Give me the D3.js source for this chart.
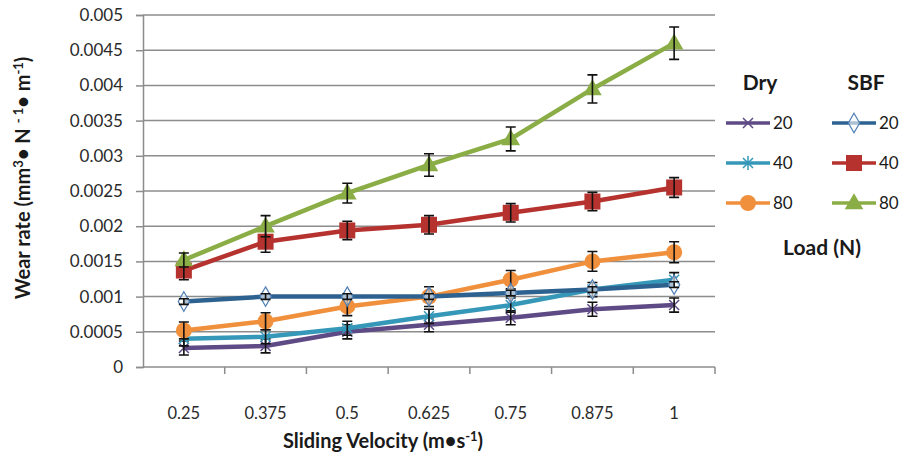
<!DOCTYPE html>
<html>
<head>
<meta charset="utf-8">
<script src="https://cdn.jsdelivr.net/npm/d3@7"></script>
<style>
  body { margin: 0; background: #fff; }
  text { font-family: Lato, "Open Sans", sans-serif; fill: #1a1a1a; }
</style>
</head>
<body>
<div id="chart"></div>
<script>
// Sliding velocity categories
var velocities = ["0.25", "0.375", "0.5", "0.625", "0.75", "0.875", "1"];
var yTicks = [0, 0.0005, 0.001, 0.0015, 0.002, 0.0025, 0.003, 0.0035, 0.004, 0.0045, 0.005];

// Wear rate, dry
var dry20 = [0.00027, 0.0003, 0.0005, 0.0006, 0.0007, 0.00082, 0.00088];
var dry40 = [0.0004, 0.00043, 0.00055, 0.00072, 0.00088, 0.0011, 0.00124];
var dry80 = [0.00052, 0.00065, 0.00086, 0.001, 0.00124, 0.0015, 0.00163];
// Wear rate, SBF
var sbf20 = [0.00093, 0.001, 0.001, 0.001, 0.00105, 0.0011, 0.00117];
var sbf40 = [0.00137, 0.00178, 0.00194, 0.00202, 0.00219, 0.00235, 0.00255];
var sbf80 = [0.00152, 0.002, 0.00247, 0.00287, 0.00324, 0.00395, 0.0046];

// Error bar half-widths
var dry20Err = [0.0001, 0.0001, 0.0001, 0.0001, 0.0001, 0.0001, 0.0001];
var dry40Err = [0.0001, 0.0001, 0.0001, 0.0001, 0.0001, 0.0001, 0.0001];
var dry80Err = [0.00012, 0.00012, 0.00013, 0.00014, 0.00013, 0.00014, 0.00015];
var sbf20Err = [0.00004, 0.00004, 0.00004, 0.00004, 0.00004, 0.00004, 0.00004];
var sbf40Err = [0.00013, 0.00015, 0.00013, 0.00013, 0.00013, 0.00013, 0.00014];
var sbf80Err = [0.0001, 0.00015, 0.00014, 0.00016, 0.00017, 0.0002, 0.00023];

var series = [
  { name: "20", group: "Dry", values: dry20, err: dry20Err, color: "#5e4a85", marker: "x" },
  { name: "40", group: "Dry", values: dry40, err: dry40Err, color: "#3698b8", marker: "star" },
  { name: "80", group: "Dry", values: dry80, err: dry80Err, color: "#f0903c", marker: "circle" },
  { name: "20", group: "SBF", values: sbf20, err: sbf20Err, color: "#2d6290", marker: "diamond" },
  { name: "40", group: "SBF", values: sbf40, err: sbf40Err, color: "#b5322e", marker: "square" },
  { name: "80", group: "SBF", values: sbf80, err: sbf80Err, color: "#8aae45", marker: "triangle" }
];

var width = 904, height = 456;
var plot = { left: 143, right: 715, top: 15, bottom: 367 };

var svg = d3.select("#chart")
  .append("svg")
  .attr("width", width)
  .attr("height", height);

var x = d3.scaleBand()
  .domain(velocities)
  .range([plot.left, plot.right]);

var y = d3.scaleLinear()
  .domain([0, 0.005])
  .range([plot.bottom, plot.top]);

// Gridlines
svg.append("g")
  .selectAll("line")
  .data(yTicks.slice(1))
  .enter()
  .append("line")
  .attr("x1", plot.left)
  .attr("x2", plot.right)
  .attr("y1", function(d) { return y(d); })
  .attr("y2", function(d) { return y(d); })
  .style("stroke", "#8c8c8c")
  .style("stroke-width", "1.5px");

// Y axis
var yAxis = svg.append("g")
  .attr("transform", "translate(" + plot.left + ",0)")
  .call(d3.axisLeft(y).tickValues(yTicks).tickSize(7).tickPadding(13)
    .tickFormat(function(d) { return d === 0 ? "0" : String(+d.toFixed(4)); }));
yAxis.select(".domain").style("stroke", "#8c8c8c").style("stroke-width", "1.5px");
yAxis.selectAll(".tick line").style("stroke", "#8c8c8c").style("stroke-width", "1.5px");
yAxis.selectAll("text").style("font-size", "17px").style("fill", "#2a2a2a");

// X axis, ticks between categories
var xAxis = svg.append("g")
  .attr("transform", "translate(0," + plot.bottom + ")");
xAxis.append("line")
  .attr("x1", plot.left).attr("x2", plot.right)
  .attr("y1", 0).attr("y2", 0)
  .style("stroke", "#8c8c8c").style("stroke-width", "1.5px");
xAxis.selectAll("line.tick")
  .data(velocities)
  .enter()
  .append("line")
  .attr("class", "tick")
  .attr("x1", function(d) { return x(d) + x.bandwidth(); })
  .attr("x2", function(d) { return x(d) + x.bandwidth(); })
  .attr("y1", 0).attr("y2", 7)
  .style("stroke", "#8c8c8c").style("stroke-width", "1.5px");
xAxis.selectAll("text")
  .data(velocities)
  .enter()
  .append("text")
  .attr("x", function(d) { return x(d) + x.bandwidth() / 2; })
  .attr("y", 52)
  .attr("text-anchor", "middle")
  .style("font-size", "16.5px")
  .style("fill", "#2a2a2a")
  .text(function(d) { return d; });

// Axis titles
var yTitle = svg.append("text")
  .attr("transform", "translate(30,178) rotate(-90)")
  .attr("text-anchor", "middle")
  .style("font-size", "20px")
  .style("font-weight", "bold");
yTitle.append("tspan").text("Wear rate (mm");
yTitle.append("tspan").attr("dy", -7).style("font-size", "13px").text("3");
yTitle.append("tspan").attr("dy", 7).text("• N ");
yTitle.append("tspan").attr("dy", -7).style("font-size", "13px").text("- 1");
yTitle.append("tspan").attr("dy", 7).text("• m");
yTitle.append("tspan").attr("dy", -7).style("font-size", "13px").text("-1");
yTitle.append("tspan").attr("dy", 7).text(")");

var xTitle = svg.append("text")
  .attr("x", 383)
  .attr("y", 448)
  .attr("text-anchor", "middle")
  .style("font-size", "20px")
  .style("font-weight", "bold");
xTitle.append("tspan").text("Sliding Velocity (m•s");
xTitle.append("tspan").attr("dy", -7).style("font-size", "13px").text("-1");
xTitle.append("tspan").attr("dy", 7).text(")");

// Marker drawing
function drawMarker(g, type, color, cx, cy) {
  if (type === "x") {
    g.append("path")
      .attr("d", "M" + (cx - 5) + "," + (cy - 5) + "L" + (cx + 5) + "," + (cy + 5) +
                 "M" + (cx - 5) + "," + (cy + 5) + "L" + (cx + 5) + "," + (cy - 5))
      .style("stroke", color).style("stroke-width", "1.5px").style("fill", "none");
  } else if (type === "star") {
    g.append("path")
      .attr("d", "M" + (cx - 5) + "," + (cy - 5) + "L" + (cx + 5) + "," + (cy + 5) +
                 "M" + (cx - 5) + "," + (cy + 5) + "L" + (cx + 5) + "," + (cy - 5) +
                 "M" + cx + "," + (cy - 7) + "L" + cx + "," + (cy + 7))
      .style("stroke", color).style("stroke-width", "1.5px").style("fill", "none");
  } else if (type === "circle") {
    g.append("circle").attr("cx", cx).attr("cy", cy).attr("r", 8)
      .style("fill", color);
  } else if (type === "diamond") {
    g.append("path")
      .attr("d", d3.symbol(d3.symbolDiamond, 110)())
      .attr("transform", "translate(" + cx + "," + cy + ")")
      .style("fill", "#fff").style("fill-opacity", 0.6)
      .style("stroke", "#4f7fb5").style("stroke-width", "1.2px");
  } else if (type === "square") {
    g.append("rect").attr("x", cx - 8).attr("y", cy - 8).attr("width", 16).attr("height", 16)
      .style("fill", color);
  } else if (type === "triangle") {
    g.append("path")
      .attr("d", d3.symbol(d3.symbolTriangle, 150)())
      .attr("transform", "translate(" + cx + "," + (cy + 1) + ")")
      .style("fill", color);
  }
}

var line = d3.line()
  .x(function(d, i) { return x(velocities[i]) + x.bandwidth() / 2; })
  .y(function(d) { return y(d); });

series.forEach(function(s) {
  var g = svg.append("g");
  g.append("path")
    .datum(s.values)
    .attr("d", line)
    .style("fill", "none")
    .style("stroke", s.color)
    .style("stroke-width", "4.5px");

  s.values.forEach(function(v, i) {
    drawMarker(g, s.marker, s.color, x(velocities[i]) + x.bandwidth() / 2, y(v));
  });

  // Error bars
  s.values.forEach(function(v, i) {
    var cx = x(velocities[i]) + x.bandwidth() / 2;
    var top = y(v + s.err[i]), bot = y(v - s.err[i]);
    g.append("path")
      .attr("d", "M" + cx + "," + top + "L" + cx + "," + bot +
                 "M" + (cx - 5) + "," + top + "L" + (cx + 5) + "," + top +
                 "M" + (cx - 5) + "," + bot + "L" + (cx + 5) + "," + bot)
      .style("stroke", "#111")
      .style("stroke-width", "1.6px")
      .style("fill", "none");
  });
});

// Legend
var legend = svg.append("g");
legend.append("text").attr("x", 760).attr("y", 90).attr("text-anchor", "middle")
  .style("font-size", "21px").style("font-weight", "bold").text("Dry");
legend.append("text").attr("x", 866).attr("y", 90).attr("text-anchor", "middle")
  .style("font-size", "21px").style("font-weight", "bold").text("SBF");
legend.append("text").attr("x", 822).attr("y", 255).attr("text-anchor", "middle")
  .style("font-size", "21px").style("font-weight", "bold").text("Load (N)");

var rowY = { "20": 123, "40": 163, "80": 203 };
series.forEach(function(s) {
  var x0 = s.group === "Dry" ? 726 : 832;
  var cy = rowY[s.name];
  legend.append("line")
    .attr("x1", x0).attr("x2", x0 + 44)
    .attr("y1", cy).attr("y2", cy)
    .style("stroke", s.color).style("stroke-width", "3.5px");
  drawMarker(legend, s.marker, s.color, x0 + 22, cy);
  legend.append("text")
    .attr("x", x0 + 47).attr("y", cy + 6)
    .style("font-size", "17px")
    .text(s.name);
});
</script>
</body>
</html>
